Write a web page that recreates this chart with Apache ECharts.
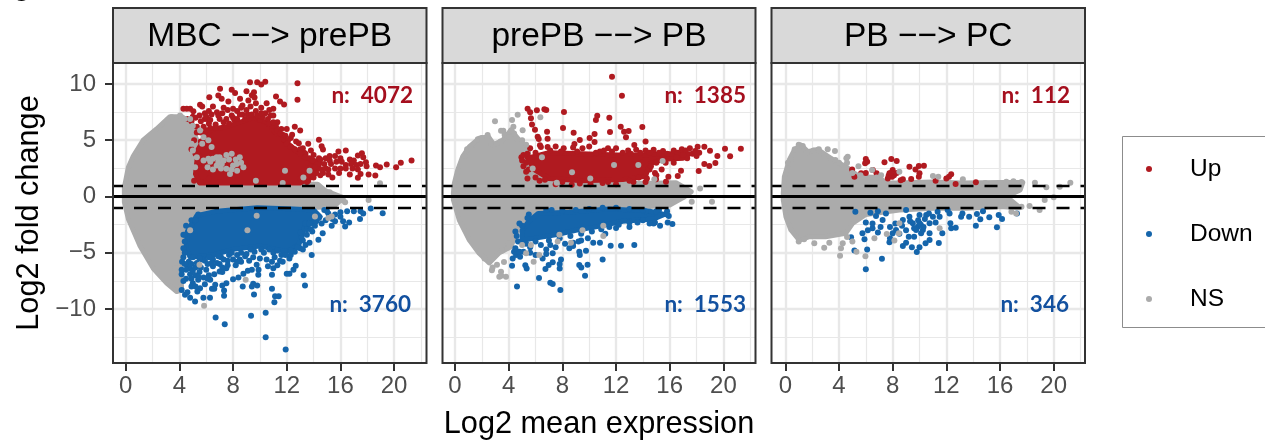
<!DOCTYPE html>
<html><head><meta charset="utf-8">
<style>html,body{margin:0;padding:0;background:#fff}#c{width:1265px;height:441px}</style>
<script src="https://cdn.jsdelivr.net/npm/echarts@6/dist/echarts.min.js"></script>
</head><body><div id="c"></div>
<script>
const panelTitles = ['MBC \u2212\u2212> prePB', 'prePB \u2212\u2212> PB', 'PB \u2212\u2212> PC'];
const upCounts = ['n:  4072', 'n:  1385', 'n:  112'];
const downCounts = ['n:  3760', 'n:  1553', 'n:  346'];
const xTicks = [0, 4, 8, 12, 16, 20];
const xMinor = [2, 6, 10, 14, 18, 22];
const yTicks = [-10, -5, 0, 5, 10];
const yMinor = [-12.5, -7.5, -2.5, 2.5, 7.5];
const thresholds = [-1, 1];

// Outlines of the saturated clouds
const nsCloud1 = [[-0.1,0],[-0.1,0.8],[0.2,2.6],[0.57,3.6],[1.3,5],[2.3,6],[3.3,7.1],[4.2,7.1],[4.9,6.4],[5.3,5],[5,3],[5.2,1.5],[5.6,1.1],[9,1.2],[12,1.1],[14.3,1.1],[14.9,0.5],[16.2,-0.1],[15.5,-0.9],[12,-1.1],[9,-0.9],[5.3,-1.5],[4.67,-2.7],[4.05,-5.6],[4.17,-8.3],[3.8,-8.45],[3.05,-7.7],[2.06,-6.4],[1.07,-4.4],[0.2,-2],[-0.1,-0.5]];
const upCloud1 = [[5.2,2.0],[5.5,1.2],[9,1.2],[13,1.2],[14,1.8],[14.5,3],[13.2,3.6],[12.3,4.5],[11.3,5.5],[10.5,6.6],[9.5,7],[8.5,6.6],[7.5,6.2],[6.5,6],[5.9,5.5],[5.7,4.8],[5.4,4.2]];
const downCloud1 = [[4.6,-3.1],[5.3,-1.7],[6.8,-1.3],[9.8,-1.0],[12.5,-1.1],[14,-1.2],[14.5,-1.8],[13.3,-2.8],[12.9,-4.3],[12,-4.9],[10,-4.4],[8,-4.7],[6.5,-5.2],[4.8,-5.4],[4.5,-4.6]];
const nsCloud2 = [[-0.12,0.28],[-0.05,1.17],[0.2,2.35],[0.57,3.54],[1.07,4.43],[1.8,5.17],[2.5,5.3],[2.9,4.6],[3.55,5],[4.17,5.9],[4.8,5],[5.5,4.3],[5.4,2.65],[6,1.9],[7,1.17],[14.73,1.17],[16.46,1.23],[17.2,0.72],[17.6,0.43],[17,-0.1],[16,-0.75],[14.5,-0.9],[11.5,-0.75],[8.5,-1.05],[6,-1.2],[5.3,-1.94],[4.55,-3.27],[4.17,-4.46],[3.3,-5],[2.55,-5.9],[1.8,-5.05],[1.07,-3.87],[0.32,-2.09],[-0.12,-0.3]];
const upCloud2 = [[5.4,3.4],[7,3.9],[9.5,3.8],[12,3.7],[14,3.7],[16,3.8],[17.5,3.8],[17,3.4],[15.5,3.3],[14.5,2.9],[14.2,1.8],[12.5,1.5],[9.5,1.4],[7,1.6],[5.9,2.4]];
const downCloud2 = [[5,-3],[5.5,-2.2],[6.2,-1.5],[8.5,-1.4],[11.5,-1.1],[14.5,-1.3],[15.6,-1.6],[14.8,-2],[12.5,-2.2],[10.5,-2.7],[9,-3],[7.5,-3.4],[6,-3.7],[5,-3.9]];
const nsCloud3 = [[-0.15,0.28],[-0.07,1.76],[0.3,3.25],[0.67,4.13],[1.17,4.58],[1.67,3.99],[2.41,4.19],[3.03,3.69],[3.78,3.1],[4.53,2.65],[5.5,1.76],[7,1.7],[7.5,1.17],[11,1.3],[13.2,1.2],[16,1.25],[17.7,1.25],[17.5,0.58],[16.47,0],[17.47,-1],[16,-0.9],[13.5,-1.05],[11,-1.05],[8.5,-1.2],[6,-1.6],[5,-2.4],[4.5,-3.27],[3,-3.57],[1.8,-3.57],[1.04,-3.87],[0.42,-2.98],[0.05,-1.8],[-0.15,-0.3]];
const upCloud3 = [];
const downCloud3 = [];

// Individually visible points
const up1 = [[9.26,10.16],[9.8,10.16],[10.1,9.95],[10.4,10.2],[12.8,10.07],[12.8,8.6],[7.03,9.57],[7.9,9.48],[8.15,9.19],[9,9.36],[9.56,9.27],[9.4,9],[6.23,8.83],[6.9,8.98],[7.15,8.68],[7.65,8.44],[8.52,8.68],[9.14,8.53],[9.6,8.8],[11.2,8.89],[11.5,8.44],[11.8,8.18],[5.54,8.15],[4.3,7.8],[4.55,7.8],[4.8,7.8],[5.04,7.58],[5.7,8],[6.5,8],[7.3,7.9],[8,7.8],[8.7,8.1],[9.7,8.3],[10.5,8.3],[11,7.8],[10.8,7.2],[10,6.8],[11.3,6.6],[5,7.1],[5.2,7],[5.9,7.4],[6.2,7.6],[4.6,6.9],[4.9,6.7],[5.9,6.9],[12.6,6.2],[13,5.87],[12,6],[11.7,5.5],[14.4,5.04],[13.6,4.68],[12.9,4.74],[13.2,4.3],[14.6,4.47],[14.7,4.18],[13.8,4.1],[15.85,4],[16.4,4.09],[17.3,3.64],[17.6,3.85],[17.7,3.5],[17.9,3.05],[17.95,2.7],[18.65,2.76],[18.95,2.6],[19.45,2.84],[20.15,2.6],[20.5,3],[21.3,3.2],[18.1,1.96],[18.6,1.87],[17.5,2],[17.3,1.66],[16.7,1.95],[15.4,1.7],[14.9,3.4],[15.2,3.2],[16,3.4],[16.7,3.3],[17,3.2],[14.4,3.4],[13.3,3.9],[13.7,3.4],[12.3,5.2],[11.8,5.1],[5.1,5],[5.3,5.7],[5.6,4.9],[5.9,5.6],[4.9,4.2],[5.2,3.8],[5.5,3.6],[5.5,3],[5.1,1.4],[5.6,1.3],[6.2,1.6],[7,1.3],[13.6,1.4],[13,1.6],[13.8,1.9],[14.7,2.1],[5.5,7.2],[5.8,6.2],[6.1,6.9],[6.4,7.3],[6.8,7.5],[7,6.9],[7.2,7.4],[7.6,7.7],[7.5,6.9],[7.9,7.2],[8.3,7.6],[8.6,7.9],[8.1,6.8],[8.7,7.3],[9,7.7],[9.3,8],[9.7,7.6],[10.1,7.9],[10.4,7.4],[10.7,7.7],[11,7.2],[10.6,6.9],[11.2,6.2],[10.9,6.3],[11.6,6],[11.9,5.4],[12.4,5.5],[12.1,5],[12.7,4.9],[13,4.2],[13.4,3.8],[14,3.7],[14.3,2.9],[14.8,2.9],[15.3,2.9],[15.7,3.1],[16.1,3.1],[16.4,2.8],[16.8,2.9],[17.2,2.8],[17.5,2.9],[15.1,2.4],[15.6,2.5],[16,2.5],[16.4,2.5],[16.9,2.5],[17.3,2.4],[14.6,2.4],[15.2,3.6],[15.6,3.6],[14.5,1.9],[15.1,1.95],[15.9,2.1],[14,2.2],[13.8,2.7],[14,1.7],[13.5,1.3],[6.2,6.5],[5.3,6.2],[5.6,6.7],[6,7.1],[6.3,6.8],[6.7,6.4],[6.9,7.2],[7.3,6.6],[7.7,6.5],[8,7],[8.3,6.9],[8.5,7.3],[8.9,6.9],[9.1,7.3],[9.4,7.3],[9.8,7.2],[10.2,7.1],[10.1,7.4],[10.7,6.5],[11,6.6],[11.3,5.9],[11.5,5.6],[12,4.7],[12.3,4.4],[12.6,4.2],[13,3.8],[13.4,3.5],[13.9,3.2],[14.1,2.6],[14.5,3.3],[14.9,2.5],[14.2,2.1],[5.6,5.7],[6,5.9],[6.3,6.1],[6.7,6.1]];
const down1 = [[10.43,-12.5],[11.92,-13.6],[7.38,-11.35],[6.7,-10.75],[9.34,-10.6],[10.43,-10.34],[11.08,-9.4],[11.13,-8.86],[11.4,-8.86],[10.9,-8.2],[9.56,-8.7],[8.72,-8],[13.36,-7.9],[13.26,-7],[12.5,-6.5],[12.67,-6.16],[12,-6.87],[12.2,-6.87],[13.86,-5.2],[14.36,-3.85],[14.68,-3.26],[19.15,-1.48],[18.26,-1.07],[17.46,-2],[16.35,-2.67],[16.65,-2.3],[16.2,-2.2],[15.35,-2.6],[14.1,-2.6],[13.9,-3.1],[13.5,-2.9],[13.2,-3.9],[13.7,-4.1],[13.4,-4.3],[13,-4.6],[5.79,-9],[6.28,-9],[5.17,-9.33],[4.8,-9],[4.42,-8.74],[4.17,-8.3],[4.6,-8.5],[7.33,-8.83],[7.33,-8.36],[6.43,-8.2],[6.6,-8.2],[5.54,-8.15],[5.34,-8.44],[6.67,-7.85],[7.5,-7.7],[7.2,-7.9],[8,-7.35],[8.4,-7.2],[8.77,-6.87],[9.1,-6.6],[9.4,-6.5],[9.9,-6.5],[9.5,-7.75],[9.8,-7.9],[9.4,-8],[9.88,-6.96],[10.9,-6.96],[11,-6.37],[11.3,-6.1],[10.5,-5.6],[11.1,-5.4],[9.76,-6.07],[8.9,-5.3],[8.5,-5.6],[8,-5.6],[7.5,-6.37],[7,-6.67],[6.3,-7.4],[5.8,-7.2],[5,-7.7],[4.5,-7.3],[4.17,-6.9],[4.17,-6.5],[4.8,-6.4],[5.5,-6.7],[6.5,-6.2],[5.2,-7],[6,-6.5],[7,-6],[7.6,-5.7],[4.2,-5.8],[4.6,-6.1],[11.7,-5.8],[12.2,-5.5],[14.9,-2.1],[15.6,-1.6],[15.1,-1.5],[4.5,-2.6],[4.9,-2.1],[5.4,-1.6],[4.4,-4],[4.3,-3.4],[13.4,-2.4],[14.4,-1.9],[12.3,-5.2],[11.6,-5.2],[11,-5],[10.3,-5],[9.6,-4.9],[9,-5.1],[8.3,-5.2],[7.7,-5.2],[7.1,-5.4],[6.5,-5.6],[5.9,-5.7],[5.3,-5.9],[4.7,-5.8],[4.3,-5.4],[4.8,-6.9],[5.4,-7.4],[5.9,-7.8],[6.2,-7],[7.2,-6.3],[5,-6.6],[5.6,-6.3],[6.8,-5.9],[8.2,-6.1],[8.6,-5.8],[9.2,-5.7],[9.5,-5.4],[10,-5.5],[10.9,-5.8],[10.6,-6.2],[11.5,-5.7],[12.6,-4.9],[13.2,-4.7],[14.8,-1.2],[15.4,-2],[16,-1.4],[16.5,-1.3],[17,-1.3],[17.5,-1.3],[17.7,-1.5],[16,-1.8],[15.6,-2.2],[14.2,-2.2],[13.7,-2.4],[15,-1.3],[4.3,-4.6],[4.4,-3.4],[4.9,-2.6],[5.2,-2.1],[13.1,-3.6],[13,-3.2],[4.4,-5],[4.5,-6.5],[4.9,-6],[5.2,-6.3],[5.7,-5.6],[6.1,-6],[6.4,-5.9],[6.9,-5.3],[7.3,-5.6],[7.9,-5],[8.6,-5],[9.3,-4.7],[10.1,-4.7],[10.7,-4.7],[11.3,-4.8],[11.9,-5.2],[12.3,-4.8],[12.8,-4.5],[5,-5.4],[5.5,-5.5],[6.2,-5.4],[7.6,-6.1],[8.3,-5.8],[7.2,-6.7],[6.6,-6.9],[6.1,-7.3],[5.4,-7.1],[4.9,-7.3],[4.4,-6],[4.3,-7.5],[4.9,-8],[5.2,-8],[13.5,-3.4],[13.8,-2.9],[14.6,-2.4]];
const ns1 = [[6.78,3.5],[6.5,3.35],[6.16,3.35],[5.8,3.2],[7.16,2.9],[7.5,2.46],[7.77,2],[7.9,3.8],[8.5,3.5],[8.27,2.9],[8.77,2.6],[6.78,2.76],[7,3.5],[8,2.76],[11.87,2.3],[13.24,1.7],[13.7,2.3],[5,4.1],[4.9,4.7],[5.54,5.87],[5.8,5.27],[6.16,5],[6.4,4.4],[5.3,3.5],[5.7,4.7],[5.17,2.6],[5,6.3],[4.8,6.9],[4.4,6.9],[3.43,7.05],[4.05,7.2],[18.95,1.18],[15.2,0.38],[16,-0.2],[16.35,-0.5],[18.1,-0.3],[15.5,-0.05],[5.84,-9.72],[8.94,-7.4],[9.07,-3],[9.76,-1.7],[4.8,-3],[14.1,-1.78],[15.1,-1.9],[15.35,-1.78],[16.2,-0.36],[5.5,-6.07],[3.68,-6.37],[9.7,1.4],[11.7,1.2],[6.3,3.1],[6.9,3.1],[7.3,3.2],[7.5,3.7],[7.7,3.3],[8.2,3.3],[8.6,3],[7.9,2.4],[8.3,2.3],[6.5,2.4],[7.1,2.5],[6.1,2.6]];
const up2 = [[11.7,10.65],[12.44,8.96],[5.41,7.8],[5.6,7.48],[6.1,7.66],[6.66,7.75],[6.8,7.69],[8.12,7.51],[5.66,6.95],[5.74,6.41],[5.96,5.94],[6.16,5.32],[6.24,5.11],[6.86,5.76],[6.9,5.14],[8.05,6.09],[8.84,5.67],[9.3,5.02],[8.9,4.67],[10.03,5.2],[10.4,5.55],[10.4,4.84],[10.5,6.8],[10.6,7.18],[11.5,7],[11.55,5.73],[12.35,6.2],[12.6,5.76],[12.94,5.82],[12.74,5.26],[13.96,6.18],[14.2,4.9],[13.36,4.58],[6.33,4.55],[18.08,4.43],[18.58,4.43],[19,4.07],[20.12,4.25],[21.3,4.25],[20.5,3.57],[19.55,3.6],[19.4,2.98],[18.95,2.71],[18.58,2.89],[18.16,2.27],[16.84,2.3],[16.6,1.82],[15.9,1.76],[15.72,1.32],[14.98,1.53],[5.6,4.3],[6.4,4.4],[6.9,4.4],[7.5,4.45],[8.1,4.3],[8.8,4.35],[9.5,4.3],[10,4.45],[10.8,4],[11.4,4.3],[12,4.3],[12.9,4.1],[13.5,4.15],[14.2,4.1],[14.8,4.15],[15.5,4.05],[16.3,4.1],[16.9,4.2],[17.5,4.3],[17.7,3.8],[17.3,3.4],[18,3.6],[16.3,3],[15.7,3],[15.4,2.4],[14.9,2.1],[14.5,2.4],[13.9,3],[4.95,3.5],[5.1,3.7],[5.4,1.6],[6,1.7],[6.3,1.4],[7.5,1.1],[8.7,1.05],[10.1,1.1],[12,1.1],[13.3,1.3],[14.2,1.3],[5.3,2.2],[5.1,2.7],[5,3.2],[5.4,3.8],[6,3.9],[7.1,4.1],[7.9,4],[9.1,4],[10.5,3.9],[11.1,4.1],[11.7,4],[12.5,3.9],[13.1,3.8],[13.8,3.9],[14.5,3.9],[15.2,3.9],[15.8,3.8],[16.6,3.9],[17.2,4.1],[17.9,4.05],[15.5,3.2],[15,3],[14.6,2.7],[14.3,1.6],[13.7,1.7],[13,1.4],[11.4,1.3],[11,1.2],[9.3,1.15],[8,1.3],[6.7,1.5],[5.8,2.6],[5.5,2.4],[5.3,3],[17,3.7],[16.5,3.5],[18.2,3.9],[15,1.9]];
const down2 = [[4.62,-8],[6.26,-7.25],[7.1,-7.66],[7.28,-7.78],[7.85,-8.31],[9.69,-7.04],[9.88,-6.06],[9.26,-6.09],[9.41,-6.3],[11,-5.6],[7.8,-6.4],[7.9,-5.6],[7.8,-6],[7.28,-5.85],[6.98,-6.09],[6.74,-6.45],[6.53,-5.5],[6.8,-5.1],[7.28,-5.05],[4.25,-6.15],[4.3,-5.5],[4.55,-5.2],[4.4,-4.9],[4.85,-5.35],[5.24,-6.1],[5.34,-6.4],[4.8,-4.9],[11.6,-4.37],[12.37,-4.37],[13.36,-4.3],[9.26,-4.9],[9.3,-5.2],[9.76,-4.82],[8.52,-4.6],[10.3,-4.1],[10.8,-4.1],[15.85,-2.3],[16.2,-2.45],[15.28,-2.6],[15.93,-1.73],[14.5,-2.4],[14.8,-2.4],[9.9,-3.7],[9.4,-3.9],[8.8,-4.1],[8.2,-4.2],[7.1,-4.3],[6.4,-4.3],[5.6,-4.5],[5.1,-4.9],[4.5,-4.6],[5,-2.6],[4.5,-3.1],[4.8,-2.4],[5.5,-1.6],[7.2,-1.2],[13,-2.7],[13.6,-2.3],[12,-2.8],[11.2,-3.3],[10.9,-2.9],[14.2,-1.3],[15.2,-1.2],[15.8,-1.3],[5.4,-1.9],[6.8,-1.2],[8,-1.25],[9,-1.2],[10,-1.1],[11,-1],[12,-1],[13,-1.1],[14,-1.2],[15,-1.3],[15.8,-1.6],[14.9,-2.3],[14,-2.1],[13,-2.3],[12.2,-2.5],[11.5,-2.7],[10.2,-3.1],[9.4,-3.3],[8.6,-3.5],[7.8,-3.7],[7,-3.9],[6,-4],[5.3,-4.2],[4.7,-4],[4.6,-3.5],[7.5,-4.5],[6.8,-4.7],[6,-5.2],[5.6,-5],[9.2,-4],[8.8,-4.4]];
const ns2 = [[2.98,6.7],[4.25,6.8],[4.67,7.27],[4.35,6.2],[6.36,7.04],[5.04,5.9],[3.43,5.85],[3.6,5.85],[2.43,5.47],[2.3,5.2],[3.7,5.5],[4,5.3],[4.4,5.6],[4.2,5.9],[6.48,3.48],[5.79,2.5],[8.72,2.15],[11.85,2.8],[13.66,2.8],[15.47,3.15],[14.85,1.53],[7.58,1.23],[10.08,1.6],[18.26,0.72],[17.64,-0.46],[19.15,-0.46],[3.13,-6.06],[2.75,-6.55],[2.8,-6.3],[3.65,-5.82],[3.43,-6.68],[3.3,-7.13],[3.45,-7.05],[3.8,-7.13],[5.86,-5.8],[5.3,-5.05],[5.66,-4.3],[6.28,-5.2],[5,-4.3],[7.78,-3.4],[8.64,-4.1],[11.05,-2.6],[11.05,-3.5],[9.5,-3],[7.65,-4],[3.5,-4.8],[4,-4.2],[2.2,-5.5],[0.7,3.6],[0.9,4.2],[1.2,4.4],[1.7,5.1],[2,5.2],[2.4,5.3],[2.7,4.7],[3.1,4.7],[3.4,4.9],[5,5],[5.3,4.6],[4.6,5.1]];
const up3 = [[6,3.33],[6.1,3.1],[5.95,2.95],[7.39,3.04],[7.9,3.33],[8.3,3.15],[9.25,2.65],[9.7,2.41],[9.95,2.71],[10.33,2.74],[10,2.06],[9.95,1.76],[8,2.36],[7.76,2.06],[8.1,1.9],[7.64,1.6],[7.95,1.75],[8.3,2.1],[7.7,1.85],[8.76,1.53],[8.6,1.45],[9.38,1.55],[11.2,1.41],[12.36,1.97],[12,1.6],[12.69,1.11],[14.2,1.26],[4.98,2.41],[5.65,2.06],[5.15,1.76],[6.52,2.36],[6.8,2.06],[6,2.1],[12.2,1.75],[7.85,2.1]];
const down3 = [[6,-6.47],[7.2,-5.53],[6.1,-4.7],[5.15,-4.8],[4.9,-3.63],[5.9,-3.8],[5.75,-3.27],[9.8,-4.93],[10,-4.5],[9.43,-4.5],[8.76,-4.4],[9,-4.1],[9.2,-3.57],[9.6,-3.57],[10.45,-4.16],[10.75,-3.87],[11.44,-4.13],[7.76,-4.07],[7.8,-3.7],[8,-3.27],[8.25,-2.98],[6.9,-3.2],[6.15,-3],[6.5,-2.83],[6,-2.3],[6.5,-2.4],[6.76,-1.73],[6.34,-1.44],[5.22,-1.35],[7.25,-2.09],[7.5,-1.5],[9,-1.2],[9.25,-1.8],[8.76,-2.09],[9.5,-2.38],[9.88,-2.68],[10.25,-2.98],[9.75,-2.98],[10.75,-2.38],[11.5,-1.8],[11.35,-1.35],[11,-1.8],[10.5,-1.65],[10,-1.65],[10.1,-2.5],[10,-2.38],[9.6,-2.83],[10.12,-3.27],[10.75,-3.27],[11.7,-3.27],[12.3,-2.38],[12.36,-2.83],[12.7,-2.77],[13.1,-1.8],[13.7,-1.8],[14.28,-1.56],[14.53,-2.03],[15.2,-1.85],[14.2,-2.6],[15.77,-2.74],[15.9,-1.65],[16.15,-2],[17.26,-1.5],[14.73,-1.3],[12.24,-1.5],[12.1,-1.2],[13.2,-1.5],[8.2,-2.4],[7.8,-2.7],[8.7,-2.6],[9.3,-2.2],[10.4,-2],[10.7,-1.5],[11.2,-2.3],[9.9,-2.1],[10.3,-2.7],[9,-3],[8.5,-3.3],[6.9,-1.3],[7.1,-2.7]];
const ns3 = [[3.16,4.19],[3.7,4.04],[4.65,3.54],[4.55,3.4],[3.73,3.25],[5.45,2.7],[6.47,2.36],[7.14,1.9],[8.5,2.2],[11,1.82],[11.4,1.75],[13.23,1.53],[14.9,1.2],[16.47,1.32],[17.6,1.3],[17,1.35],[18.6,1.23],[19.45,0.82],[20.45,0.87],[21.24,1.23],[20,-0.07],[19.33,-0.3],[18.2,-0.85],[18.95,-1.2],[17.2,-1.5],[16.85,-1.35],[17.6,-0.9],[3.28,-4.1],[2.9,-4.55],[2.16,-4.16],[4.28,-4.16],[4.15,-4.6],[4.08,-5.26],[5,-4],[5.3,-4.9],[5.97,-5.3],[6.64,-3.7],[7.56,-3.33],[8.13,-3.9],[8.46,-3.27],[8.5,-2.38],[11.5,-2.83],[4.6,-3.6],[1,-4],[1.4,-3.8],[0.7,4.2],[1,4.6],[1.3,4.5],[1.6,3.9],[2.1,4.1],[2.5,4.2],[2.9,3.7],[3.4,3.3],[4,3],[4.6,3],[5,2.1],[5.6,1.9],[0.4,3.3],[0.2,3],[6.8,1.7]];

const sets = [
  {ns: nsCloud1, up: upCloud1, down: downCloud1, nsPts: ns1, upPts: up1, downPts: down1},
  {ns: nsCloud2, up: upCloud2, down: downCloud2, nsPts: ns2, upPts: up2, downPts: down2},
  {ns: nsCloud3, up: upCloud3, down: downCloud3, nsPts: ns3, upPts: up3, downPts: down3}
];
const RED = '#B01A20', BLUE = '#1565AB', GREY = '#ABABAB';
const SANS = '"Liberation Sans", Arial, sans-serif';
const panels = [{l: 113, r: 426.5}, {l: 442.5, r: 755.5}, {l: 771.5, r: 1085}];
const zeroPx = [125.7, 455, 785.3];
const upRight = [413, 746, 1070], downRight = [411, 746, 1069];
const plotTop = 63, plotBottom = 363, pxX = 13.42, pxY = 11.25, zeroY = 196.5;

const chart = echarts.init(document.getElementById('c'), null, {renderer: 'canvas'});
const grids = [], xAxes = [], yAxes = [], series = [], graphics = [];

function cloud(name, poly, color, g, z) {
  return {name, type: 'custom', xAxisIndex: g, yAxisIndex: g, z, silent: true,
    data: poly, encode: {x: 0, y: 1}, clip: true,
    renderItem(params, api) {
      if (params.dataIndex !== 0) return null;
      return {type: 'polygon', shape: {points: poly.map(p => api.coord(p))},
        style: {fill: color, stroke: color, lineWidth: 5, lineJoin: 'round'}};
    }};
}
function pts(name, data, color, g, z) {
  return {name, type: 'scatter', xAxisIndex: g, yAxisIndex: g, z, silent: true,
    symbol: 'circle', symbolSize: 6, data,
    itemStyle: {color, opacity: 1}, animation: false};
}
panels.forEach((p, g) => {
  const xMin = (p.l - zeroPx[g]) / pxX, xMax = (p.r - zeroPx[g]) / pxX;
  const yMax = (zeroY - plotTop) / pxY, yMin = (zeroY - plotBottom) / pxY;
  grids.push({left: p.l, width: p.r - p.l, top: plotTop, height: plotBottom - plotTop,
    show: true, borderWidth: 0, backgroundColor: '#fff', containLabel: false, outerBoundsMode: 'none'});
  xAxes.push({type: 'value', gridIndex: g, position: 'bottom', min: xMin, max: xMax,
    name: g === 1 ? 'Log2 mean expression' : '', nameLocation: 'middle', nameGap: 46,
    nameTextStyle: {fontFamily: SANS, fontSize: 30.7, color: '#000'},
    axisLine: {show: false, onZero: false},
    axisTick: {show: true, inside: false, customValues: xTicks, length: 8, lineStyle: {color: '#333333', width: 2}},
    axisLabel: {show: true, customValues: xTicks, margin: 11, fontFamily: SANS, fontSize: 24, color: '#4D4D4D'},
    splitLine: {show: true, lineStyle: {color: '#E8E8E8', width: 2.4}}, minorSplitLine: {show: false}});
  yAxes.push({type: 'value', gridIndex: g, position: 'left', min: yMin, max: yMax,
    name: g === 0 ? 'Log2 fold change' : '', nameLocation: 'middle', nameGap: 68,
    nameTextStyle: {fontFamily: SANS, fontSize: 30.7, color: '#000'},
    axisLine: {show: false, onZero: false},
    axisTick: {show: g === 0, inside: false, customValues: yTicks, length: 8, lineStyle: {color: '#333333', width: 2}},
    axisLabel: {show: g === 0, customValues: yTicks, margin: 17, padding: [2, 0, 0, 0], fontFamily: SANS, fontSize: 24, color: '#4D4D4D',
      formatter: v => String(v).replace('-', '\u2212')},
    splitLine: {show: true, lineStyle: {color: '#E8E8E8', width: 2.4}}, minorSplitLine: {show: false}});

  // minor grid
  series.push({type: 'scatter', xAxisIndex: g, yAxisIndex: g, data: [], silent: true, z: 1,
    markLine: {silent: true, symbol: 'none', animation: false, z: 1, label: {show: false},
      lineStyle: {color: '#E8E8E8', width: 1.2, type: 'solid'},
      data: xMinor.map(v => ({xAxis: v})).concat(yMinor.map(v => ({yAxis: v})))}});

  const s = sets[g];
  series.push(cloud('NS', s.ns, GREY, g, 2));
  if (s.up.length) series.push(cloud('Up', s.up, RED, g, 3));
  if (s.down.length) series.push(cloud('Down', s.down, BLUE, g, 3));
  series.push(pts('Up', s.upPts, RED, g, 4));
  series.push(pts('Down', s.downPts, BLUE, g, 4));
  series.push(pts('NS', s.nsPts, GREY, g, 5));

  // reference lines
  series.push({type: 'scatter', xAxisIndex: g, yAxisIndex: g, data: [], silent: true, z: 6,
    markLine: {silent: true, symbol: 'none', animation: false, z: 8, label: {show: false},
      data: [
        {yAxis: 0, lineStyle: {color: '#000', width: 3, type: 'solid'}},
        ...thresholds.map(t => ({yAxis: t, lineStyle: {color: '#000', width: 2.4, type: [13, 11], dashOffset: 3}}))
      ]}});

  // panel frame
  graphics.push({type: 'rect', z: 9, silent: true, shape: {x: p.l, y: plotTop, width: p.r - p.l, height: plotBottom - plotTop},
    style: {fill: 'transparent', stroke: '#333333', lineWidth: 2}});
  // strips
  graphics.push({type: 'rect', z: 10, shape: {x: p.l, y: 8, width: p.r - p.l, height: plotTop - 8},
    style: {fill: '#D9D9D9', stroke: '#333333', lineWidth: 2}});
  graphics.push({type: 'text', z: 11, x: (p.l + p.r) / 2, y: 37,
    style: {text: panelTitles[g], fontFamily: SANS, fontSize: 33.5, fill: '#000', align: 'center', verticalAlign: 'middle'}});
  // counts
  graphics.push({type: 'text', z: 11, x: upRight[g], y: 96,
    style: {text: upCounts[g], fontFamily: 'Lato, sans-serif', fontWeight: 'bold', fontSize: 22.5, fill: '#A50F1E', align: 'right', verticalAlign: 'middle'}});
  graphics.push({type: 'text', z: 11, x: downRight[g], y: 305,
    style: {text: downCounts[g], fontFamily: 'Lato, sans-serif', fontWeight: 'bold', fontSize: 22.5, fill: '#12509F', align: 'right', verticalAlign: 'middle'}});
});
// legend frame and cropped tag at the top edge
graphics.push({type: 'rect', z: 0, shape: {x: 1122.5, y: 136.5, width: 150, height: 191},
  style: {fill: '#fff', stroke: '#8C8C8C', lineWidth: 1}});
graphics.push({type: 'text', z: 11, x: 21, y: -7.5,
  style: {text: 'c', fontFamily: SANS, fontWeight: 'bold', fontSize: 31, fill: '#000', align: 'center', verticalAlign: 'middle'}});

chart.setOption({
  animation: false,
  backgroundColor: '#fff',
  grid: grids, xAxis: xAxes, yAxis: yAxes, series,
  legend: {orient: 'vertical', left: 1141, top: 150, itemGap: 37, itemWidth: 6, itemHeight: 6,
    selectedMode: false, data: [
      {name: 'Up', icon: 'circle', itemStyle: {color: RED}},
      {name: 'Down', icon: 'circle', itemStyle: {color: BLUE}},
      {name: 'NS', icon: 'circle', itemStyle: {color: GREY}}],
    textStyle: {fontFamily: SANS, fontSize: 24.5, color: '#000', padding: [0, 0, 0, 33], lineHeight: 28}},
  graphic: graphics
});
</script></body></html>
